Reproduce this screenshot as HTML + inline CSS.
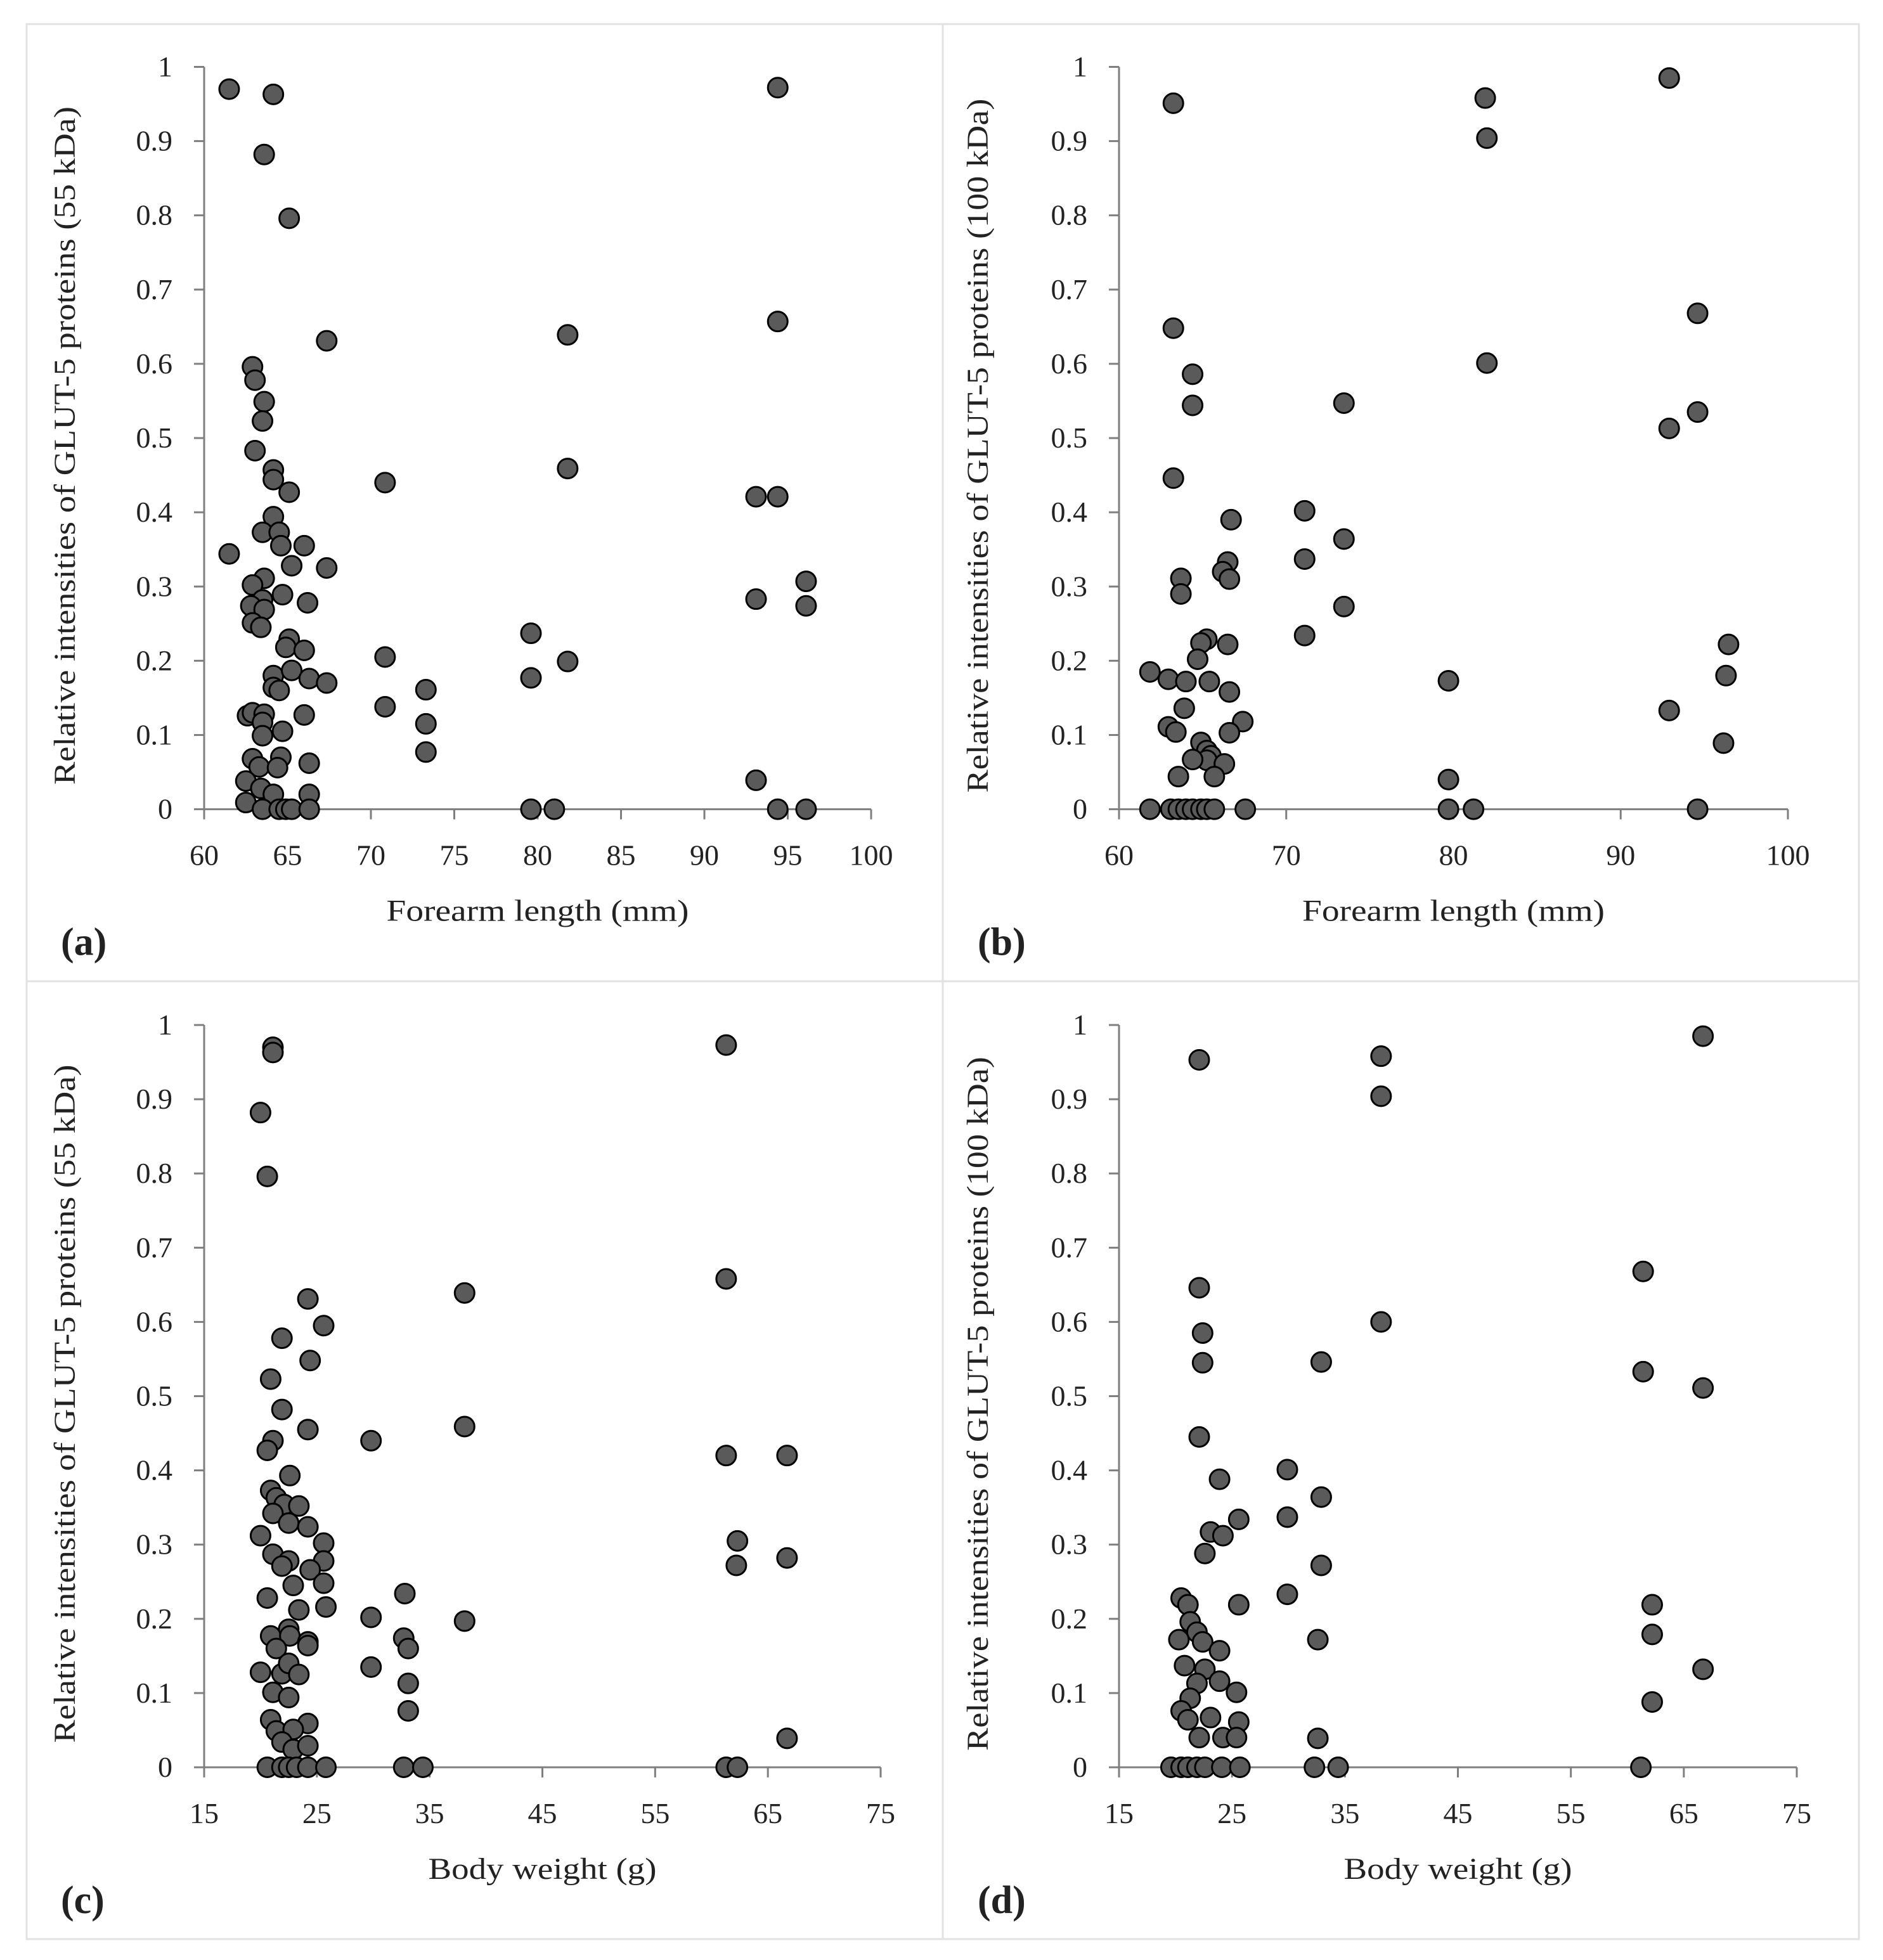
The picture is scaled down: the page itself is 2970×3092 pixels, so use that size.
<!DOCTYPE html>
<html><head><meta charset="utf-8"><style>
html,body{margin:0;padding:0;background:#fff;}
svg{display:block;}
text{font-family:"Liberation Serif",serif;fill:#222;}
</style></head><body>
<svg id="fig" width="2970" height="3092" viewBox="0 0 2970 3092" xmlns="http://www.w3.org/2000/svg">
<rect x="42" y="38" width="2890" height="3021" fill="none" stroke="#e2e2e2" stroke-width="3"/>
<line x1="1487" y1="38" x2="1487" y2="3059" stroke="#e2e2e2" stroke-width="3"/>
<line x1="42" y1="1548" x2="2932" y2="1548" stroke="#e2e2e2" stroke-width="3"/>
</svg>
<script>
// Panel (a): forearm vs 55 kDa
const aX=[61.5,64.15,94.4,63.6,65.1,67.35,81.8,94.4,62.9,63.05,
63.6,63.5,63.05,64.15,64.15,65.1,70.85,81.8,93.1,94.4,
64.15,63.5,64.5,64.6,61.5,66.0,65.25,67.35,63.6,62.9,
96.1,64.7,63.5,93.1,62.8,63.6,66.2,96.1,62.9,63.4,
65.1,64.9,66.0,79.6,70.85,81.8,64.15,65.25,66.3,67.35,
64.15,64.5,79.6,73.3,73.3,70.85,73.3,62.6,62.9,63.6,
63.5,63.5,64.7,66.0,62.9,63.3,64.6,64.4,66.3,62.5,
93.1,63.4,64.15,62.5,66.3];
const aY=[0.97,0.963,0.972,0.882,0.796,0.631,0.639,0.657,0.596,0.578,
0.549,0.523,0.483,0.457,0.444,0.427,0.44,0.459,0.421,0.421,
0.394,0.373,0.373,0.355,0.344,0.355,0.328,0.325,0.311,0.302,
0.307,0.289,0.282,0.283,0.274,0.269,0.278,0.274,0.251,0.245,
0.229,0.218,0.214,0.237,0.205,0.199,0.18,0.187,0.176,0.17,
0.164,0.16,0.177,0.161,0.115,0.138,0.077,0.126,0.13,0.128,
0.117,0.099,0.105,0.127,0.068,0.057,0.07,0.056,0.062,0.038,
0.039,0.028,0.02,0.009,0.02];
const aZeroX=[63.5,64.5,64.9,65.25,66.3,79.6,81.0,94.4,96.1];
// Panel (b): forearm vs 100 kDa
const bX=[63.25,81.9,82.0,92.9,63.25,94.6,64.4,64.4,73.45,82.0,
92.9,94.6,63.25,71.1,66.7,71.1,66.5,73.45,63.7,66.2,
66.6,63.7,73.45,71.1,61.85,62.95,64.0,65.25,64.9,64.7,
65.4,66.5,66.6,67.4,79.7,92.9,96.45,96.3,96.15,62.95,
63.4,63.9,64.9,65.25,65.5,65.25,66.3,66.6,63.55,64.4,
65.7,79.7];
const bY=[0.951,0.958,0.904,0.985,0.648,0.668,0.586,0.544,0.547,0.601,
0.513,0.535,0.446,0.402,0.390,0.337,0.333,0.364,0.311,0.320,
0.310,0.290,0.273,0.234,0.185,0.175,0.172,0.229,0.224,0.202,
0.172,0.222,0.158,0.118,0.173,0.133,0.222,0.180,0.089,0.111,
0.104,0.136,0.090,0.079,0.072,0.066,0.061,0.103,0.044,0.067,
0.044,0.040];
const bZeroX=[61.85,63.1,63.55,64.0,64.4,64.9,65.25,65.7,67.55,79.7,81.2,94.6];
// Panel (c): body weight vs 55 kDa
const cX=[21.1,21.1,61.3,20.0,20.6,24.2,38.1,61.3,25.6,21.9,
24.4,20.9,21.9,24.2,21.1,29.8,38.1,20.6,61.3,66.7,
22.6,20.9,21.4,22.1,23.4,21.1,22.5,24.2,20.0,25.6,
62.3,21.1,66.7,22.5,25.6,21.9,62.2,24.4,22.9,25.6,
20.6,25.8,23.4,32.8,29.8,38.1,22.5,20.9,22.6,24.2,
32.7,21.4,24.2,33.1,20.0,21.9,22.5,23.4,29.8,21.1,
22.5,33.1,20.9,24.2,21.4,22.9,33.1,66.7,21.9,22.9,
24.2];
const cY=[0.970,0.963,0.973,0.882,0.796,0.631,0.639,0.658,0.595,0.578,
0.548,0.523,0.482,0.455,0.440,0.440,0.459,0.427,0.420,0.420,
0.393,0.373,0.363,0.354,0.352,0.342,0.329,0.324,0.312,0.302,
0.305,0.287,0.282,0.278,0.278,0.271,0.272,0.266,0.245,0.248,
0.228,0.216,0.212,0.234,0.202,0.197,0.186,0.177,0.177,0.169,
0.174,0.160,0.164,0.160,0.128,0.126,0.140,0.125,0.135,0.101,
0.094,0.113,0.064,0.059,0.049,0.051,0.076,0.039,0.034,0.024,
0.029];
const cZeroX=[20.6,21.9,22.5,23.2,24.2,25.8,32.7,34.4,61.3,62.3];
// Panel (d): body weight vs 100 kDa
const dX=[22.1,38.2,38.2,66.7,22.1,61.4,22.4,22.4,32.9,38.2,
61.4,66.7,22.1,29.9,23.9,29.9,25.6,32.9,23.1,22.6,
24.2,32.9,29.9,20.5,21.1,25.6,62.2,21.3,21.9,20.3,
22.4,32.6,62.2,23.9,20.8,22.6,66.7,23.9,21.9,25.4,
21.3,20.5,62.2,21.1,23.1,25.6,22.1,24.2,25.4,32.6];
const dY=[0.953,0.958,0.904,0.985,0.646,0.668,0.585,0.545,0.546,0.600,
0.533,0.511,0.445,0.401,0.388,0.337,0.334,0.364,0.317,0.288,
0.312,0.272,0.233,0.228,0.219,0.219,0.219,0.196,0.182,0.172,
0.169,0.172,0.179,0.157,0.137,0.132,0.132,0.116,0.113,0.101,
0.093,0.076,0.088,0.064,0.067,0.061,0.040,0.040,0.040,0.039];
const dZeroX=[19.6,20.5,21.1,21.9,22.6,24.1,25.7,32.3,34.4,61.2];
// Tick labels
const yTicks=[0,0.1,0.2,0.3,0.4,0.5,0.6,0.7,0.8,0.9,1];
const yTickLabels=["0","0.1","0.2","0.3","0.4","0.5","0.6","0.7","0.8","0.9","1"];
const aXTicks=[60,65,70,75,80,85,90,95,100];
const bXTicks=[60,70,80,90,100];
const cdXTicks=[15,25,35,45,55,65,75];

const NS="http://www.w3.org/2000/svg";
const svg=document.getElementById('fig');
function mk(tag,attrs,parent){const e=document.createElementNS(NS,tag);for(const k in attrs)e.setAttribute(k,attrs[k]);(parent||svg).appendChild(e);return e;}

function panel(p){
  const g=mk('g',{});
  
  
  const sx=v=>p.L+(v-p.xmin)/(p.xmax-p.xmin)*(p.R-p.L);
  const sy=v=>p.B-(v-0)/(1-0)*(p.B-p.T);
  const ax='#7f7f7f';
  const yl=mk('line',{x1:p.L,y1:p.T,x2:p.L,y2:p.B,stroke:ax,'stroke-width':3},g);
  
  
  const xl=mk('line',{x1:p.L,y1:p.B,x2:p.R,y2:p.B,stroke:ax,'stroke-width':3},g);
  
  
  yTicks.forEach((v,i)=>{
    const y=sy(v);
    const t=mk('line',{x1:p.L-16,y1:y,x2:p.L,y2:y,stroke:ax,'stroke-width':3},g);
    
    
    const lb=mk('text',{x:p.L-50,y:y+15,'text-anchor':'end','font-size':46},g);
    lb.textContent=yTickLabels[i];
    
    
  });
  p.xt.forEach(v=>{
    const x=sx(v);
    const t=mk('line',{x1:x,y1:p.B,x2:x,y2:p.B+16,stroke:ax,'stroke-width':3},g);
    
    
    const lb=mk('text',{x:x,y:p.B+88,'text-anchor':'middle','font-size':46},g);
    lb.textContent=String(v);
    
    
  });
  const xtl=mk('text',{x:(p.L+p.R)/2,y:p.B+176,'text-anchor':'middle','font-size':48,textLength:p.xtLen,lengthAdjust:'spacingAndGlyphs'},g);
  xtl.textContent=p.xTitle;
  
  
  const cy=(p.T+p.B)/2+12;
  const ytl=mk('text',{x:0,y:0,'text-anchor':'middle','font-size':48,textLength:p.ytLen,lengthAdjust:'spacingAndGlyphs',transform:`translate(${p.ytX},${cy}) rotate(-90)`},g);
  ytl.textContent=p.yTitle;
  
  
  const lt=mk('text',{x:p.letX,y:p.B+230,'font-size':62,'font-weight':'bold'},g);
  lt.textContent='('+p.id+')';
  
  
  const xs=p.xs.concat(p.zx), ys=p.ys.concat(p.zx.map(()=>0));
  xs.forEach((xv,i)=>{
    const c=mk('circle',{cx:sx(xv),cy:sy(ys[i]),r:15.5,fill:'#5a5a5a',stroke:'#000','stroke-width':3},g);
    
    
  });
}
const y55="Relative intensities of GLUT-5 proteins (55 kDa)";
const y100="Relative intensities of GLUT-5 proteins (100 kDa)";
panel({id:'a',L:322,R:1374,T:105.5,B:1276.6,xmin:60,xmax:100,xt:aXTicks,xs:aX,ys:aY,zx:aZeroX,xTitle:'Forearm length (mm)',yTitle:y55,xtLen:477,ytLen:1070,ytX:118,letX:96});
panel({id:'b',L:1765,R:2820,T:105.5,B:1276.6,xmin:60,xmax:100,xt:bXTicks,xs:bX,ys:bY,zx:bZeroX,xTitle:'Forearm length (mm)',yTitle:y100,xtLen:477,ytLen:1095,ytX:1558,letX:1542});
panel({id:'c',L:322,R:1389,T:1617,B:2788,xmin:15,xmax:75,xt:cdXTicks,xs:cX,ys:cY,zx:cZeroX,xTitle:'Body weight (g)',yTitle:y55,xtLen:360,ytLen:1070,ytX:118,letX:96});
panel({id:'d',L:1765,R:2834,T:1617,B:2788,xmin:15,xmax:75,xt:cdXTicks,xs:dX,ys:dY,zx:dZeroX,xTitle:'Body weight (g)',yTitle:y100,xtLen:360,ytLen:1095,ytX:1558,letX:1542});
</script>
</body></html>
